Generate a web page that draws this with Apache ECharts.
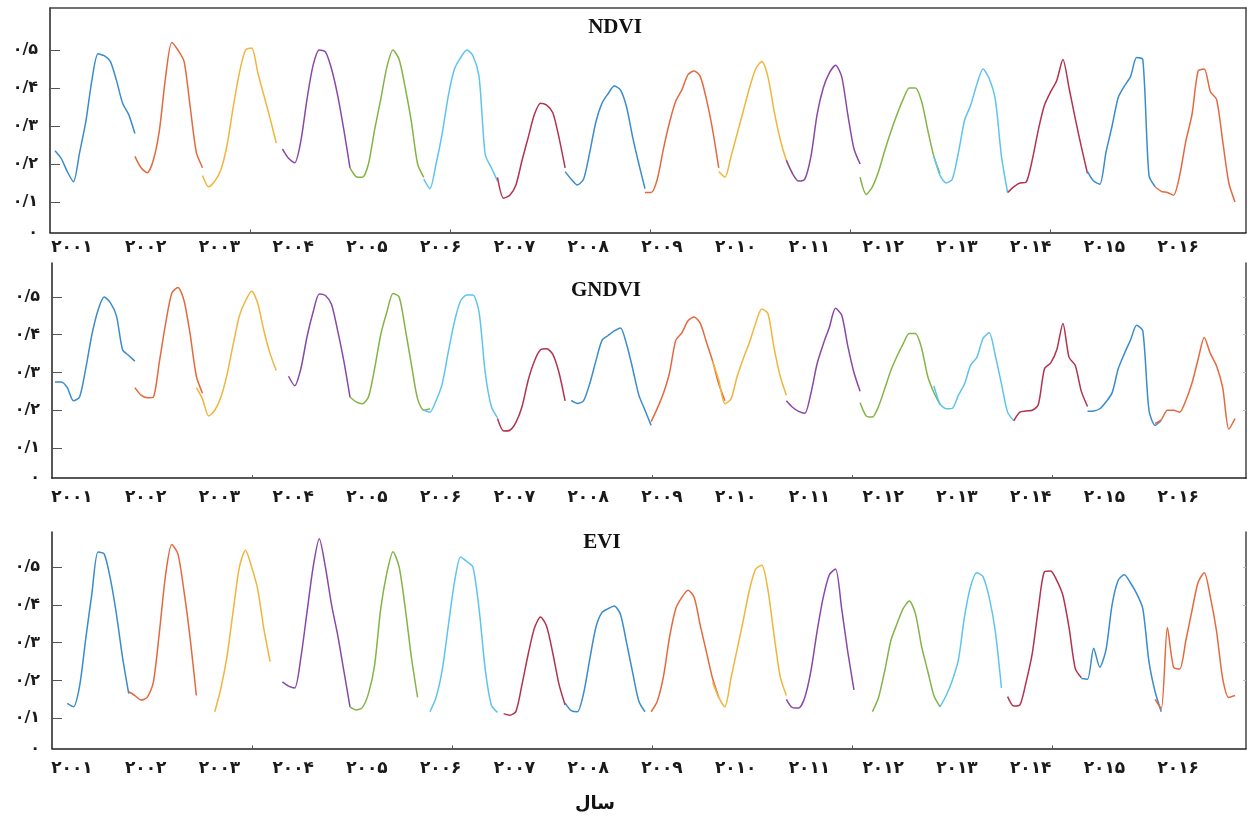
<!DOCTYPE html>
<html><head><meta charset="utf-8">
<script src="https://cdn.jsdelivr.net/npm/echarts@6/dist/echarts.min.js"></script>
<style>html,body{margin:0;padding:0;background:#fff}#c{width:1248px;height:816px}</style>
</head><body><div id="c"></div><script>
// ---------------- DATA ----------------
const years = [2001,2002,2003,2004,2005,2006,2007,2008,2009,2010,2011,2012,2013,2014,2015,2016];
const yearLabels = ['۲۰۰۱','۲۰۰۲','۲۰۰۳','۲۰۰۴','۲۰۰۵','۲۰۰۶','۲۰۰۷','۲۰۰۸','۲۰۰۹','۲۰۱۰','۲۰۱۱','۲۰۱۲','۲۰۱۳','۲۰۱۴','۲۰۱۵','۲۰۱۶'];
const yTickValues = [0.1, 0.2, 0.3, 0.4, 0.5];
const yTickLabels = ['۰/۱','۰/۲','۰/۳','۰/۴','۰/۵'];
const zeroLabel = '۰';
const panelTitles = ['NDVI','GNDVI','EVI'];
const xAxisTitle = 'سال';
// each row: one year; value k is at (year + (k-1)/12), i.e. one month before the year to one month after it
const ndvi = [
 [null,0.235,0.215,0.18,0.153,0.23,0.31,0.42,0.49,0.485,0.47,0.42,0.36,0.33,0.28],
 [null,null,0.22,0.19,0.177,0.21,0.29,0.43,0.52,0.50,0.47,0.35,0.23,0.19,null],
 [null,0.17,0.14,0.155,0.185,0.25,0.35,0.44,0.50,0.505,0.44,0.38,0.32,0.255,null],
 [null,null,0.24,0.215,0.203,0.26,0.37,0.46,0.50,0.495,0.45,0.38,0.29,0.19,null],
 [null,0.19,0.167,0.165,0.20,0.29,0.37,0.455,0.50,0.475,0.40,0.31,0.20,0.165,null],
 [null,0.16,0.135,0.20,0.28,0.38,0.45,0.48,0.50,0.485,0.43,0.225,0.19,0.155,null],
 [null,0.165,0.11,0.118,0.145,0.21,0.27,0.33,0.36,0.355,0.335,0.27,0.19,null,null],
 [0.18,0.16,0.145,0.16,0.23,0.31,0.36,0.385,0.405,0.395,0.35,0.27,0.20,0.135,null],
 [null,0.125,0.125,0.16,0.24,0.31,0.365,0.395,0.435,0.445,0.43,0.37,0.29,0.19,null],
 [null,0.18,0.165,0.22,0.28,0.34,0.40,0.45,0.47,0.43,0.34,0.265,0.21,0.175,null],
 [0.21,0.175,0.155,0.16,0.22,0.33,0.40,0.44,0.46,0.43,0.33,0.24,0.20,null,null],
 [0.165,0.12,0.14,0.18,0.235,0.285,0.33,0.37,0.40,0.40,0.365,0.29,0.22,0.175,null],
 [0.22,0.17,0.15,0.16,0.23,0.315,0.355,0.41,0.45,0.425,0.37,0.22,0.125,null,null],
 [0.125,0.14,0.15,0.152,0.21,0.29,0.355,0.39,0.42,0.475,0.40,0.32,0.245,0.175,null],
 [null,0.18,0.155,0.147,0.23,0.30,0.375,0.405,0.43,0.48,0.475,0.17,0.14,null,null],
 [0.14,0.128,0.125,0.118,0.17,0.26,0.33,0.445,0.45,0.39,0.37,0.26,0.15,0.10,null]
];
const gndvi = [
 [null,0.275,0.275,0.26,0.225,0.235,0.31,0.40,0.465,0.50,0.485,0.45,0.36,0.345,0.33],
 [null,null,0.26,0.24,0.233,0.235,0.33,0.43,0.51,0.525,0.49,0.40,0.29,0.245,null],
 [0.26,0.23,0.185,0.20,0.235,0.295,0.375,0.45,0.49,0.515,0.482,0.41,0.35,0.305,null],
 [null,null,null,0.29,0.265,0.31,0.394,0.46,0.508,0.504,0.48,0.41,0.33,0.235,null],
 [null,0.235,0.222,0.217,0.235,0.31,0.40,0.46,0.509,0.50,0.415,0.32,0.23,0.20,0.204],
 [null,0.20,0.195,0.225,0.27,0.355,0.435,0.49,0.505,0.505,0.46,0.30,0.21,0.18,null],
 [null,0.178,0.145,0.147,0.168,0.21,0.28,0.33,0.36,0.363,0.348,0.30,0.225,null,null],
 [null,0.226,0.218,0.225,0.27,0.33,0.385,0.398,0.41,0.418,0.375,0.31,0.24,0.20,0.16],
 [null,null,0.17,0.205,0.245,0.30,0.385,0.405,0.437,0.447,0.43,0.38,0.33,0.27,0.225],
 [0.33,0.28,0.217,0.23,0.29,0.337,0.38,0.43,0.468,0.456,0.365,0.29,0.24,null,null],
 [0.225,0.208,0.197,0.192,0.245,0.323,0.375,0.42,0.47,0.452,0.37,0.30,0.25,null,null],
 [0.22,0.185,0.182,0.21,0.257,0.305,0.343,0.376,0.403,0.403,0.365,0.29,0.247,0.215,null],
 [0.265,0.217,0.204,0.205,0.24,0.27,0.32,0.34,0.39,0.405,0.345,0.27,0.195,0.172,null],
 [null,0.172,0.195,0.198,0.20,0.215,0.31,0.325,0.36,0.43,0.34,0.319,0.25,0.21,null],
 [null,0.197,0.198,0.204,0.222,0.246,0.31,0.35,0.386,0.425,0.41,0.20,0.16,0.173,null],
 [0.165,0.175,0.20,0.20,0.195,0.226,0.272,0.335,0.393,0.35,0.317,0.26,0.15,0.178,null]
];
const evi = [
 [null,null,null,0.139,0.13,0.185,0.31,0.43,0.54,0.535,0.47,0.375,0.26,0.165,null],
 [null,0.17,0.16,0.148,0.155,0.195,0.33,0.48,0.56,0.535,0.435,0.31,0.16,null,null],
 [null,null,null,0.117,0.18,0.265,0.385,0.50,0.545,0.50,0.44,0.335,0.25,null,null],
 [null,null,0.196,0.185,0.18,0.26,0.38,0.50,0.575,0.50,0.40,0.32,0.225,0.13,null],
 [null,0.13,0.122,0.128,0.165,0.24,0.39,0.485,0.541,0.50,0.39,0.26,0.155,null,null],
 [null,null,0.117,0.155,0.227,0.345,0.46,0.527,0.515,0.50,0.39,0.23,0.135,0.115,null],
 [null,null,0.112,0.108,0.118,0.19,0.27,0.338,0.368,0.343,0.272,0.19,0.135,null,null],
 [0.14,0.12,0.117,0.165,0.255,0.34,0.38,0.39,0.397,0.375,0.30,0.22,0.145,0.117,null],
 [null,null,0.117,0.145,0.21,0.315,0.39,0.42,0.439,0.42,0.345,0.275,0.205,0.155,null],
 [0.195,0.155,0.13,0.207,0.283,0.36,0.44,0.495,0.505,0.44,0.32,0.21,0.16,null,null],
 [0.15,0.128,0.127,0.155,0.225,0.33,0.42,0.48,0.495,0.39,0.275,0.175,null,null,null],
 [null,null,0.117,0.155,0.225,0.305,0.35,0.39,0.41,0.377,0.29,0.225,0.16,0.13,null],
 [null,0.13,0.16,0.20,0.255,0.37,0.45,0.485,0.475,0.42,0.33,0.18,null,null,null],
 [0.157,0.132,0.135,0.195,0.27,0.39,0.488,0.49,0.465,0.425,0.34,0.232,0.207,null,null],
 [0.205,0.203,0.285,0.235,0.28,0.40,0.465,0.48,0.458,0.43,0.39,0.25,0.17,0.117,null],
 [0.15,0.125,0.34,0.235,0.23,0.305,0.385,0.46,0.485,0.42,0.33,0.205,0.155,0.16,null]
];
// ---------------- LAYOUT / STYLE ----------------
const palette = ['#3a8ccd','#e4693e','#f0b53c','#8a48a6','#84b445','#5ec4ef','#b2334f'];
const pxPerYear = 73.75, year0px = 55, rightPx = 1246;
const grids = [
  {left:50, top:8,   height:224.4, yMax:0.6105, labelMargin:7},
  {left:52, top:263, height:215.2, yMax:0.59,   labelMargin:11},
  {left:52, top:532, height:216.4, yMax:0.593,  labelMargin:12}
];
const yMin = 0.02;
const faFont = '"DejaVu Sans", sans-serif';
const datasets = [ndvi, gndvi, evi];

const chart = echarts.init(document.getElementById('c'), null, {renderer:'canvas'});
const gridOpt = [], xAxes = [], yAxes = [], series = [];
grids.forEach((g, p) => {
  gridOpt.push({left:g.left, top:g.top, height:g.height, right:1248 - rightPx, show:false});
  const xMin = years[0] + (g.left - year0px) / pxPerYear;
  const xMax = years[0] + (rightPx - year0px) / pxPerYear;
  const tickStep = 200 / pxPerYear;
  xAxes.push({
    type:'value', gridIndex:p, min:xMin, max:xMax, position:'bottom',
    axisLine:{show:true, onZero:false, lineStyle:{color:'#222', width:1.5}},
    axisTick:{show:true, inside:true, length:3, lineStyle:{color:'#555'},
      customValues:[1,2,3,4,5].map(n => xMin + n*tickStep)},
    splitLine:{show:false},
    axisLabel:{show:true, margin:g.labelMargin, fontFamily:faFont, fontWeight:'bold', fontSize:17, color:'#1a1a1a',
      customValues: years.map(y => y + 0.23),
      formatter: v => yearLabels[Math.round(v - 0.23) - years[0]] || ''}
  });
  yAxes.push({
    type:'value', gridIndex:p, min:yMin, max:g.yMax, position:'left',
    axisLine:{show:true, onZero:false, lineStyle:{color:'#222', width:1.5}},
    axisTick:{show:true, inside:true, length:10, lineStyle:{color:'#555'}, customValues:yTickValues},
    splitLine:{show:false},
    axisLabel:{show:true, margin:12, fontFamily:faFont, fontWeight:'bold', fontSize:16, color:'#1a1a1a',
      customValues:[yMin].concat(yTickValues),
      formatter: v => { if (Math.abs(v - yMin) < 1e-6) return zeroLabel;
        const i = yTickValues.findIndex(t => Math.abs(t - v) < 1e-6); return i >= 0 ? yTickLabels[i] : ''; }}
  });
});
// frame pieces: right edges for every panel, top edge for the first
grids.forEach((g, p) => {
  yAxes.push({
    type:'value', gridIndex:p, min:yMin, max:g.yMax, position:'right',
    axisLine:{show:true, onZero:false, lineStyle:{color:'#444', width:1.5}},
    axisTick:{show:p > 0, inside:true, length:3, lineStyle:{color:'#bbb'}, customValues:yTickValues.slice(1)},
    axisLabel:{show:false}, splitLine:{show:false}
  });
});
xAxes.push({
  type:'value', gridIndex:0, position:'top', min:xAxes[0].min, max:xAxes[0].max,
  axisLine:{show:true, onZero:false, lineStyle:{color:'#444', width:1.5}},
  axisTick:{show:false}, axisLabel:{show:false}, splitLine:{show:false}
});

datasets.forEach((rows, p) => {
  rows.forEach((row, i) => {
    const yr = years[i];
    series.push({
      type:'line', xAxisIndex:p, yAxisIndex:p, name: panelTitles[p] + ' ' + yr,
      data: row.map((v, k) => [yr + (k - 1) / 12, v == null ? '-' : v]),
      showSymbol:false, smooth:0.25, connectNulls:false, silent:true,
      lineStyle:{color:palette[i % palette.length], width:1.5},
      itemStyle:{color:palette[i % palette.length]}
    });
  });
});

const titleY = [28, 291, 543];
const titleX = [615, 606, 602];
const graphics = panelTitles.map((t, p) => ({
  type:'text', x:titleX[p], y:titleY[p], silent:true,
  style:{text:t, fill:'#111', textAlign:'center', textVerticalAlign:'middle',
    font:'bold 21px "Liberation Serif", "Times New Roman", serif'}
}));
graphics.push({type:'text', x:595, y:804, silent:true,
  style:{text:xAxisTitle, fill:'#111', textAlign:'center', textVerticalAlign:'middle',
    font:'bold 18px ' + faFont}});

chart.setOption({
  backgroundColor:'#fff', animation:false,
  grid:gridOpt, xAxis:xAxes, yAxis:yAxes, series:series, graphic:graphics,
  tooltip:{show:false}
});
</script></body></html>
